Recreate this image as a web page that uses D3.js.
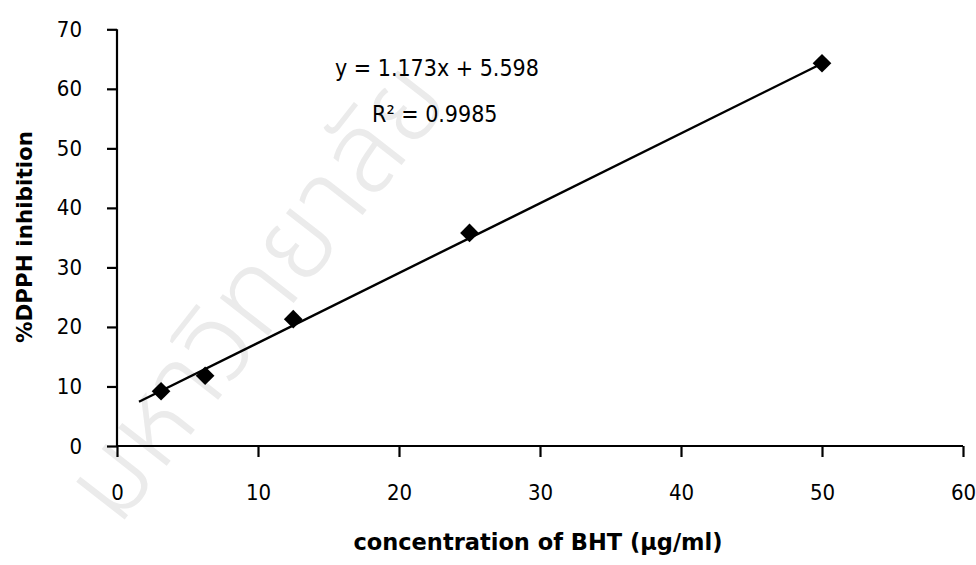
<!DOCTYPE html>
<html>
<head>
<meta charset="utf-8">
<script src="https://cdn.jsdelivr.net/npm/d3@7"></script>
<style>
  html, body { margin: 0; padding: 0; background: #fff; }
  svg { display: block; }
  text { font-family: "DejaVu Sans Condensed", "DejaVu Sans", sans-serif; fill: #000; }
</style>
</head>
<body>
<svg id="chart" width="976" height="565"></svg>
<script>
// BHT concentrations (µg/ml) and measured %DPPH inhibition
const concentrations = [3.125, 6.25, 12.5, 25, 50];
const inhibition = [9.2, 11.8, 21.3, 35.8, 64.3];

// Linear trendline coefficients and its fit
const slope = 1.173;
const intercept = 5.598;
const rSquared = 0.9985;
const trendRange = [1.56, 50];

const xTicks = [0, 10, 20, 30, 40, 50, 60];
const yTicks = [0, 10, 20, 30, 40, 50, 60, 70];

const svg = d3.select("#chart");

const x = d3.scaleLinear().domain([0, 60]).range([117, 963]);
const y = d3.scaleLinear().domain([0, 70]).range([446, 29.3]);

// faint background watermark
svg.append("text")
  .attr("transform", "translate(118,528) rotate(-52)")
  .attr("font-size", 112)
  .style("fill", "#ebebeb")
  .style("font-weight", 300)
  .style("font-family", "'Noto Sans Thai', 'Noto Sans', sans-serif")
  .text("มหาวิทยาลัย");

// axes
const xAxis = svg.append("g")
  .attr("transform", `translate(0,${y(0)})`)
  .call(d3.axisBottom(x).tickValues(xTicks).tickSize(11).tickSizeOuter(0).tickPadding(27));
const yAxis = svg.append("g")
  .attr("transform", `translate(${x(0)},0)`)
  .call(d3.axisLeft(y).tickValues(yTicks).tickSize(10).tickSizeOuter(0).tickPadding(25));

[xAxis, yAxis].forEach(g => {
  g.attr("font-family", null).attr("font-size", null);
  g.select(".domain").attr("stroke", "#000").attr("stroke-width", 2.2);
  g.selectAll(".tick line").attr("stroke", "#000").attr("stroke-width", 2.2);
  g.selectAll(".tick text").attr("font-size", 22);
});
xAxis.select(".domain").attr("d", `M${x(0)},0H${x(60)}`);
yAxis.select(".domain").attr("d", `M0,${y(0)}V${y(70)}`);

// trendline
svg.append("line")
  .attr("x1", x(trendRange[0])).attr("y1", y(slope * trendRange[0] + intercept))
  .attr("x2", x(trendRange[1])).attr("y2", y(slope * trendRange[1] + intercept))
  .attr("stroke", "#000").attr("stroke-width", 2.4);

// data markers (diamonds)
const diamond = d3.symbol().type(d3.symbolSquare).size(175);
svg.append("g").selectAll("path")
  .data(concentrations.map((c, i) => [c, inhibition[i]]))
  .join("path")
  .attr("d", diamond)
  .attr("transform", d => `translate(${x(d[0])},${y(d[1])}) rotate(45)`)
  .attr("fill", "#000");

// equation and fit
svg.append("text").attr("x", 335).attr("y", 76).attr("font-size", 23)
  .text(`y = ${slope}x + ${intercept}`);
svg.append("text").attr("x", 372).attr("y", 122).attr("font-size", 23)
  .text(`R² = ${rSquared}`);

// axis titles
svg.append("text")
  .attr("transform", "translate(32,237) rotate(-90)")
  .attr("text-anchor", "middle").attr("font-size", 21.5).attr("font-weight", "bold")
  .style("font-family", "'DejaVu Sans', sans-serif")
  .text("%DPPH inhibition");
svg.append("text")
  .attr("x", 538).attr("y", 550)
  .attr("text-anchor", "middle").attr("font-size", 22.5).attr("font-weight", "bold")
  .style("font-family", "'DejaVu Sans', sans-serif")
  .text("concentration of BHT (µg/ml)");
</script>
</body>
</html>
